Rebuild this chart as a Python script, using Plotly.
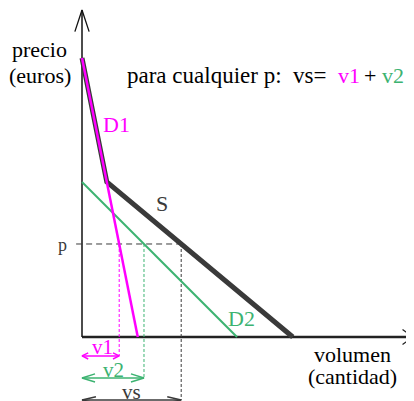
import plotly.graph_objects as go

# demand / supply curves (quantity, price) in chart units
q_d1 = [0, 1.8]
p_d1 = [9, 0]
q_d2 = [0, 5]
p_d2 = [5, 0]
q_s = [0, 0.8, 6.8]
p_s = [9, 5, 0]

# chosen price and the resulting quantities
p_level = 3
v1 = 1.2
v2 = 2.0
vs = 3.2

# axis extents and the rows used for the v1 / v2 / vs brackets
q_axis_end = 10.68
p_axis_end = 10.55
row_v1 = -0.61
row_v2 = -1.32
row_vs = -2.03

MAGENTA = '#ff00ff'
GREEN = '#3cb371'
DARK = '#3a3a3a'
FONT = 'Liberation Serif'


def vhead(tx, ty, dx, dy, length, spread):
    # open "V" arrowhead with its tip at (tx, ty) pointing along (dx, dy)
    nx, ny = -dy, dx
    bx, by = tx - dx * length, ty - dy * length
    return ([bx + nx * spread, tx, bx - nx * spread],
            [by + ny * spread, ty, by - ny * spread])


def line(fig, x, y, color, width, dash='solid'):
    fig.add_trace(go.Scatter(x=x, y=y, mode='lines', hoverinfo='skip',
                             line=dict(color=color, width=width, dash=dash)))


def double_arrow(fig, x0, x1, y, color, width, length, spread):
    line(fig, [x0, x1], [y, y], color, width)
    hx, hy = vhead(x1, y, 1, 0, length, spread)
    line(fig, hx, hy, color, width)
    hx, hy = vhead(x0, y, -1, 0, length, spread)
    line(fig, hx, hy, color, width)


fig = go.Figure()

# axes with open arrowheads
line(fig, [0, q_axis_end], [0, 0], '#222222', 2.5)
hx, hy = vhead(q_axis_end, 0, 1, 0, 0.34, 0.24)
line(fig, hx, hy, '#222222', 1.3)
line(fig, [0, 0], [0, p_axis_end], '#111111', 1.5)
hx, hy = vhead(0, p_axis_end, 0, 1, 0.70, 0.23)
line(fig, hx, hy, '#111111', 1.3)

# price guide and quantity drop lines
line(fig, [-0.19, vs], [p_level, p_level], DARK, 1, dash='6px,4px')
line(fig, [v1, v1], [p_level, row_v1], MAGENTA, 1, dash='3px,2px')
line(fig, [v2, v2], [p_level, row_v2], GREEN, 1, dash='3px,2px')
line(fig, [vs, vs], [p_level, row_vs], DARK, 1, dash='3px,2px')

# curves
line(fig, q_d2, p_d2, GREEN, 2)
line(fig, q_s, p_s, DARK, 5)
line(fig, q_d1, p_d1, MAGENTA, 2.5)

# v1, v2, vs brackets
double_arrow(fig, 0, v1, row_v1, MAGENTA, 1.5, 0.2, 0.1)
double_arrow(fig, 0, v2, row_v2, GREEN, 1.5, 0.42, 0.13)
double_arrow(fig, 0, vs, row_vs, DARK, 1.5, 0.45, 0.1)

labels = [
    ('precio', -1.355, 9.26, 'black', 22, 'center'),
    ('(euros)', -1.355, 8.42, 'black', 22, 'center'),
    ('para cualquier p:&nbsp;&nbsp;vs=', 1.39, 8.45, 'black', 23, 'left'),
    ('v1', 8.61, 8.45, MAGENTA, 22, 'center'),
    ('+', 9.29, 8.45, 'black', 22, 'center'),
    ('v2', 10.03, 8.45, GREEN, 22, 'center'),
    ('D1', 1.1, 6.87, MAGENTA, 22, 'center'),
    ('S', 2.58, 4.3, DARK, 22, 'center'),
    ('D2', 5.16, 0.61, GREEN, 22, 'center'),
    ('p', -0.645, 2.98, DARK, 18, 'center'),
    ('v1', 0.66, -0.33, MAGENTA, 21, 'center'),
    ('v2', 1.0, -1.06, GREEN, 21, 'center'),
    ('vs', 1.61, -1.77, DARK, 21, 'center'),
    ('volumen', 8.74, -0.58, 'black', 22, 'center'),
    ('(cantidad)', 8.74, -1.28, 'black', 22, 'center'),
]
for text, x, y, color, size, anchor in labels:
    fig.add_annotation(x=x, y=y, text=text, showarrow=False, xanchor=anchor, yanchor='middle',
                       font=dict(family=FONT, size=size, color=color))

# the page puts the plot 8px in from the top-left, so the figure is 8px smaller
fig.update_layout(width=406, height=393, autosize=False, showlegend=False,
                  font=dict(family=FONT),
                  margin=dict(l=0, r=0, t=0, b=0),
                  paper_bgcolor='white', plot_bgcolor='white')
fig.update_xaxes(range=[-2.387, 10.71], visible=False, fixedrange=True)
fig.update_yaxes(range=[-2.065, 10.613], visible=False, fixedrange=True)

fig.write_html("out.html")
